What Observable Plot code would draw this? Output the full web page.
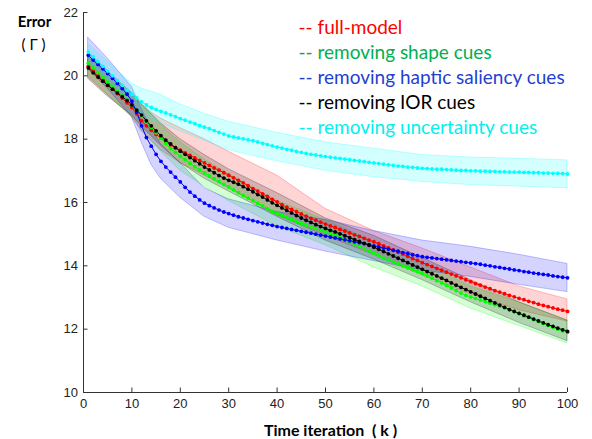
<!DOCTYPE html>
<html><head><meta charset="utf-8">
<script src="https://cdn.jsdelivr.net/npm/d3@7"></script>
<script src="https://cdn.jsdelivr.net/npm/@observablehq/plot@0.6"></script>
<style>body{margin:0;background:#fff} #chart svg{display:block}</style>
</head><body><div id="chart"></div>
<script>
// ---- data ----
const seriesNames = ["full-model","removing shape cues","removing haptic saliency cues","removing IOR cues","removing uncertainty cues"];
const iterations = d3.range(1, 101);
const xTicks = [0,10,20,30,40,50,60,70,80,90,100];
const yTicks = [10,12,14,16,18,20,22];

const fullModel = [20.3,20.15,20.0,19.86,19.72,19.58,19.44,19.3,19.15,19.0,18.8,18.58,18.42,18.28,18.15,18.03,17.92,17.82,17.73,17.65,
17.57,17.49,17.41,17.33,17.25,17.17,17.09,17.02,16.94,16.86,16.78,16.7,16.62,16.53,16.44,16.36,16.27,16.19,16.1,16.02,
15.93,15.85,15.78,15.71,15.64,15.57,15.5,15.44,15.38,15.32,15.26,15.21,15.15,15.1,15.04,14.98,14.93,14.87,14.81,14.76,
14.7,14.63,14.57,14.5,14.43,14.37,14.3,14.23,14.17,14.1,14.04,13.98,13.92,13.86,13.8,13.74,13.68,13.62,13.56,13.5,
13.44,13.39,13.33,13.28,13.22,13.17,13.12,13.07,13.02,12.97,12.93,12.88,12.84,12.79,12.75,12.71,12.67,12.63,12.6,12.56];

const noShape = [20.4,20.25,20.1,19.95,19.8,19.66,19.52,19.38,19.24,19.08,18.9,18.72,18.54,18.37,18.2,18.03,17.86,17.7,17.58,17.46,
17.35,17.24,17.13,17.03,16.93,16.84,16.75,16.66,16.57,16.49,16.4,16.31,16.22,16.14,16.06,15.97,15.89,15.8,15.72,15.65,
15.59,15.53,15.46,15.4,15.34,15.29,15.23,15.18,15.12,15.07,15.01,14.96,14.89,14.82,14.75,14.68,14.61,14.54,14.47,14.4,
14.31,14.24,14.18,14.12,14.06,14.0,13.94,13.88,13.82,13.76,13.68,13.61,13.53,13.46,13.38,13.3,13.22,13.14,13.07,13.02,
12.97,12.92,12.87,12.82,12.77,12.72,12.67,12.61,12.55,12.49,12.43,12.37,12.3,12.24,12.18,12.12,12.06,12.0,11.95,11.9];

const noHaptic = [20.65,20.5,20.36,20.22,20.07,19.92,19.76,19.6,19.42,19.2,18.85,18.42,18.05,17.78,17.52,17.3,17.12,16.96,16.8,16.65,
16.48,16.33,16.2,16.08,15.98,15.9,15.83,15.76,15.7,15.65,15.6,15.55,15.51,15.47,15.43,15.39,15.35,15.31,15.28,15.24,
15.21,15.18,15.15,15.12,15.09,15.06,15.03,15.0,14.97,14.94,14.91,14.88,14.85,14.82,14.79,14.76,14.73,14.7,14.67,14.63,
14.6,14.56,14.53,14.49,14.46,14.42,14.39,14.35,14.32,14.29,14.27,14.25,14.23,14.21,14.19,14.17,14.15,14.13,14.11,14.09,
14.07,14.05,14.02,14.0,13.97,13.95,13.92,13.9,13.87,13.85,13.82,13.8,13.77,13.75,13.73,13.71,13.68,13.66,13.64,13.62];

const noIOR = [20.25,20.1,19.96,19.83,19.7,19.58,19.46,19.34,19.22,19.08,18.92,18.76,18.58,18.42,18.26,18.11,17.97,17.85,17.73,17.62,
17.52,17.42,17.32,17.22,17.12,17.03,16.94,16.85,16.77,16.7,16.64,16.58,16.5,16.42,16.34,16.25,16.17,16.08,15.99,15.91,
15.83,15.75,15.67,15.59,15.51,15.44,15.37,15.3,15.24,15.18,15.12,15.07,15.01,14.95,14.89,14.83,14.77,14.71,14.65,14.59,
14.52,14.45,14.38,14.31,14.24,14.17,14.1,14.03,13.96,13.89,13.82,13.75,13.68,13.61,13.54,13.46,13.39,13.32,13.25,13.18,
13.11,13.04,12.97,12.9,12.83,12.76,12.69,12.62,12.56,12.5,12.44,12.38,12.32,12.26,12.2,12.14,12.09,12.03,11.98,11.93];

const noUncertainty = [20.75,20.6,20.45,20.3,20.15,20.0,19.85,19.7,19.55,19.42,19.3,19.18,19.08,19.0,18.94,18.88,18.83,18.77,18.71,18.65,
18.6,18.54,18.49,18.43,18.38,18.33,18.27,18.21,18.16,18.1,18.07,18.04,18.01,17.98,17.95,17.91,17.87,17.83,17.79,17.75,
17.72,17.68,17.65,17.61,17.58,17.55,17.52,17.5,17.47,17.45,17.43,17.41,17.39,17.37,17.35,17.33,17.31,17.29,17.27,17.25,
17.23,17.21,17.19,17.17,17.15,17.14,17.12,17.11,17.09,17.08,17.07,17.06,17.05,17.05,17.04,17.03,17.02,17.01,17.01,17.0,
17.0,16.99,16.99,16.98,16.98,16.97,16.97,16.96,16.96,16.96,16.95,16.95,16.94,16.94,16.93,16.93,16.92,16.92,16.91,16.9];

// confidence bands, read at these iterations
const bandK = [1,5,10,12,14,16,20,25,30,40,50,60,70,80,90,100];
const fullModelLo = [19.95,19.4,18.7,18.25,17.95,17.65,17.25,16.85,16.45,15.6,14.95,14.35,13.7,13.1,12.6,12.24];
const fullModelHi = [20.7,20.15,19.45,19.1,18.85,18.65,18.35,18.0,17.6,16.85,15.8,15.1,14.55,13.95,13.35,12.94];
const noShapeLo = [20.0,19.4,18.7,18.3,17.95,17.6,17.0,16.5,16.05,15.25,14.65,13.95,13.35,12.65,12.1,11.55];
const noShapeHi = [20.75,20.15,19.45,19.1,18.8,18.45,17.9,17.35,16.9,16.05,15.45,14.75,14.1,13.35,12.85,12.28];
const noHapticLo = [20.2,19.6,18.7,17.9,17.2,16.75,16.15,15.55,15.2,14.8,14.45,14.15,13.85,13.65,13.4,13.17];
const noHapticHi = [21.2,20.55,19.65,18.95,18.35,17.85,17.25,16.45,16.1,15.7,15.45,15.1,14.8,14.6,14.35,14.06];
const noIORLo = [19.9,19.35,18.75,18.4,18.1,17.8,17.25,16.75,16.35,15.55,14.8,14.2,13.55,12.85,12.2,11.62];
const noIORHi = [20.6,20.05,19.45,19.1,18.8,18.5,18.0,17.5,17.05,16.3,15.5,14.95,14.25,13.55,12.85,12.27];
const noUncertaintyLo = [20.5,19.85,19.05,18.8,18.6,18.5,18.25,17.95,17.65,17.3,17.0,16.8,16.65,16.55,16.5,16.45];
const noUncertaintyHi = [21.0,20.45,19.75,19.6,19.5,19.4,19.1,18.8,18.55,18.2,17.9,17.7,17.5,17.42,17.38,17.33];

// ---- styles ----
const lineColors = ["#ff0000","#00ff00","#0000ff","#000000","#00ffff"];
const legendColors = ["#ff0000","#00b050","#1f3fd0","#000000","#00f0f0"];

const values = [fullModel, noShape, noHaptic, noIOR, noUncertainty];
const los = [fullModelLo, noShapeLo, noHapticLo, noIORLo, noUncertaintyLo];
const his = [fullModelHi, noShapeHi, noHapticHi, noIORHi, noUncertaintyHi];

const pts = seriesNames.flatMap((s, i) => iterations.map((k, j) => ({s, k, v: values[i][j]})));
const bands = seriesNames.flatMap((s, i) => bandK.map((k, j) => ({s, k, lo: los[i][j], hi: his[i][j]})));

const legendMarks = seriesNames.map((s, i) => Plot.text([s], {
  text: d => "-- " + d, frameAnchor: "top-left", dx: 215, dy: 15 + i * 25,
  textAnchor: "start", lineAnchor: "middle", fill: legendColors[i],
  fontSize: 19, fontFamily: "Lato"
}));

const chart = Plot.plot({
  width: 592, height: 439,
  marginLeft: 83, marginRight: 25, marginTop: 12, marginBottom: 47,
  x: {domain: [0, 100], ticks: xTicks},
  y: {domain: [10, 22], ticks: yTicks},
  color: {domain: seriesNames, range: lineColors},
  style: {fontFamily: "'Liberation Sans', sans-serif", fontSize: "13px", color: "#222", background: "#fff"},
  marks: [
    Plot.areaY(bands, {x: "k", y1: "lo", y2: "hi", z: "s", fill: "s", fillOpacity: 0.17, stroke: "s", strokeOpacity: 0.3, strokeWidth: 0.8}),
    Plot.lineY(pts, {x: "k", y: "v", z: "s", stroke: "s", strokeWidth: 1}),
    Plot.dot(pts, {x: "k", y: "v", fill: "s", r: 1.9}),
    Plot.ruleX([0], {stroke: "#333"}),
    Plot.ruleY([10], {stroke: "#333"}),
    Plot.axisX({ticks: xTicks, tickSize: -4.5, tickPadding: 11, label: null, stroke: "#333"}),
    Plot.axisY({ticks: yTicks, tickSize: -4.5, tickPadding: 10, label: null, stroke: "#333"}),
    ...legendMarks,
    Plot.text(["Error"], {text: d => d, frameAnchor: "top-left", dx: -49, dy: 10, textAnchor: "middle", lineAnchor: "middle", fontWeight: "bold", fontSize: 15, fontFamily: "Lato", fill: "#000"}),
    Plot.text(["( Γ )"], {text: d => d, frameAnchor: "top-left", dx: -50, dy: 33, textAnchor: "middle", lineAnchor: "middle", fontSize: 15, fontFamily: "Lato", fill: "#000"}),
    Plot.text(["Time iteration  ( k )"], {text: d => d, frameAnchor: "bottom", dx: 5, dy: 38, textAnchor: "middle", lineAnchor: "middle", fontWeight: "bold", fontSize: 16, fontFamily: "Lato", fill: "#000"})
  ]
});
document.getElementById("chart").append(chart);
</script>
</body></html>
